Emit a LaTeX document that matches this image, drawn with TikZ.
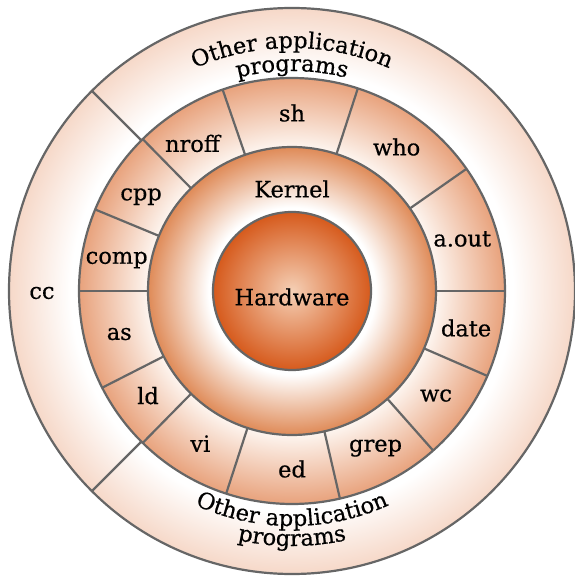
\documentclass[tikz,border=0pt]{standalone}
\usepackage{fontspec}
\setmainfont{DejaVu Serif}[FakeBold=0.5]
\usepackage{tikz}
\usetikzlibrary{positioning,decorations.text}

\definecolor{ringgray}{HTML}{666666}
\definecolor{hwlight}{HTML}{F5D0B6}
\definecolor{hwdark}{HTML}{D65A1C}
\definecolor{kerneldark}{HTML}{DF8A57}
\definecolor{appsdark}{HTML}{E8A27C}
\definecolor{appslight}{HTML}{FDF4EE}
\definecolor{outerdark}{HTML}{F6D8C8}

\pgfdeclareradialshading{hwshade}{\pgfpointorigin}{color(0bp)=(hwlight); color(25bp)=(hwdark); color(50bp)=(hwdark)}
\pgfdeclareradialshading{kernelshade}{\pgfpointorigin}{color(0bp)=(white); color(14.5bp)=(white); color(25bp)=(kerneldark); color(50bp)=(kerneldark)}
\pgfdeclareradialshading{appsshade}{\pgfpointorigin}{color(0bp)=(white); color(17bp)=(appslight); color(25bp)=(appsdark); color(50bp)=(appsdark)}
\pgfdeclareradialshading{othershade}{\pgfpointorigin}{color(0bp)=(white); color(19.5bp)=(white); color(25bp)=(outerdark); color(50bp)=(outerdark)}

\newcommand\labelfont{\fontsize{22.5}{25}\selectfont}

\begin{document}
\begin{tikzpicture}[x=1pt,y=1pt,
    ring/.style={draw=ringgray, line width=2.2pt},
    divider/.style={draw=ringgray, line width=2.2pt},
    prog/.style={font=\labelfont, inner sep=0pt}]
  \useasboundingbox (-292,-287) rectangle (283,291);

  % rings, outside in
  \shade[shading=othershade] (0,0) circle[radius=283];
  \shade[shading=appsshade] (0,0) circle[radius=213];
  \shade[shading=kernelshade] (0,0) circle[radius=144];
  \shade[shading=hwshade] (0,0) circle[radius=79];

  % dividers
  \foreach \a in {109,72,35,0,-23.5,-48.5,-77,-108,-134.5,-153,180,157.5,134.5}
    \draw[divider] (\a:144) -- (\a:213);
  \foreach \a in {135,225}
    \draw[divider] (\a:213) -- (\a:283);

  \foreach \r in {283,213,144,79}
    \draw[ring] (0,0) circle[radius=\r];

  % labels
  \node[prog] (hardware) at (0,-6) {Hardware};
  \node[prog] (kernel) at (0,102) {Kernel};
  \node[prog] (cc) at (-250,-2) {cc};
  \foreach \a/\n/\t in {90/sh/sh, 54/who/who, 17/aout/a.out, -12/date/date,
      -36/wc/wc, -62/grep/grep, -90/ed/ed, -121/vi/vi, -144/ld/ld,
      -166/as/as, 170/comp/comp, 148/cpp/cpp, 124/nroff/nroff}
    \node[prog] (\n) at (\a:178) {\t};

  % curved labels
  \path[decorate, decoration={text along path, text align=center,
      text={|\labelfont|Other application}}]
    (150:243) arc[start angle=150, end angle=30, radius=243];
  \path[decorate, decoration={text along path, text align=center,
      text={|\labelfont|programs}}]
    (130:220) arc[start angle=130, end angle=50, radius=220];
  \path[decorate, decoration={text along path, text align=center,
      text={|\labelfont|Other application}}]
    (210:235) arc[start angle=210, end angle=330, radius=235];
  \path[decorate, decoration={text along path, text align=center,
      text={|\labelfont|programs}}]
    (225:255) arc[start angle=225, end angle=315, radius=255];
\end{tikzpicture}
\end{document}
